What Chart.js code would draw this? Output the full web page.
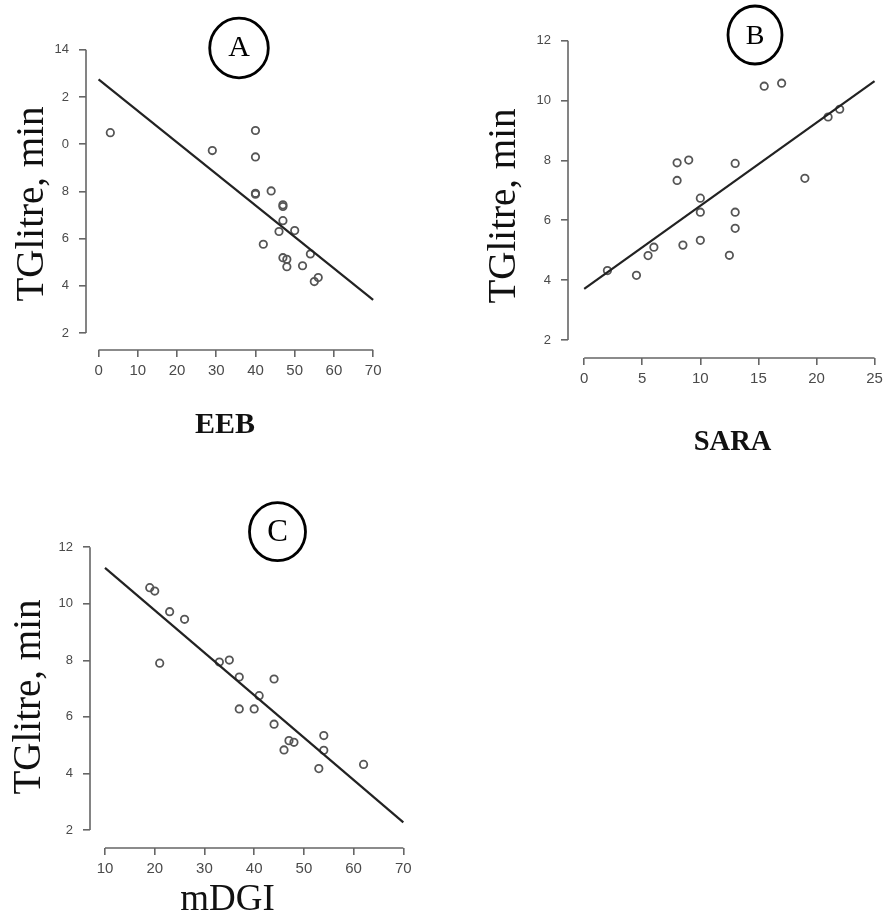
<!DOCTYPE html>
<html>
<head>
<meta charset="utf-8">
<script src="https://cdn.jsdelivr.net/npm/chart.js@4"></script>
<style>
  html, body { margin: 0; padding: 0; background: #fff; }
  body { width: 888px; height: 914px; position: relative; overflow: hidden; }
  canvas { position: absolute; }
</style>
</head>
<body>
<canvas id="cA" width="440" height="460" style="left:0px;top:0px"></canvas>
<canvas id="cB" width="448" height="460" style="left:440px;top:0px"></canvas>
<canvas id="cC" width="440" height="454" style="left:0px;top:460px"></canvas>
<script>
// ---------------- DATA ----------------
// Panel A: EEB vs TGlitre
const eeb = [3, 29, 40, 40, 40, 40, 44, 47, 47, 47, 46, 50, 42, 47, 48, 48, 52, 54, 55, 56];
const tgA = [10.49, 9.73, 10.58, 9.46, 7.92, 7.88, 8.02, 7.43, 7.36, 6.76, 6.30, 6.34, 5.76, 5.19, 5.12, 4.81, 4.85, 5.35, 4.18, 4.35];
const fitAx = [0, 70];
const fitAy = [12.75, 3.4];
const ticksAx = [0, 10, 20, 30, 40, 50, 60, 70];
const ticksAy = [2, 4, 6, 8, 10, 12, 14];

// Panel B: SARA vs TGlitre
const sara = [2, 4.5, 5.5, 6, 8.5, 8, 9, 8, 10, 10, 10, 13, 13, 13, 12.5, 15.5, 17, 19, 21, 22];
const tgB = [4.32, 4.16, 4.82, 5.10, 5.17, 7.92, 8.01, 7.33, 6.74, 6.27, 5.33, 7.90, 6.27, 5.73, 4.83, 10.48, 10.58, 7.40, 9.45, 9.71];
const fitBx = [0, 25];
const fitBy = [3.71, 10.65];
const ticksBx = [0, 5, 10, 15, 20, 25];
const ticksBy = [2, 4, 6, 8, 10, 12];

// Panel C: mDGI vs TGlitre
const mdgi = [19, 20, 23, 26, 21, 33, 35, 37, 44, 41, 37, 40, 44, 47, 48, 46, 54, 54, 53, 62];
const tgC = [10.57, 10.45, 9.72, 9.45, 7.90, 7.94, 8.01, 7.41, 7.34, 6.75, 6.28, 6.28, 5.74, 5.16, 5.10, 4.83, 5.34, 4.82, 4.17, 4.32];
const fitCx = [10, 70];
const fitCy = [11.27, 2.27];
const ticksCx = [10, 20, 30, 40, 50, 60, 70];
const ticksCy = [2, 4, 6, 8, 10, 12];

const yTitle = 'TGlitre, min';

// ---------------- RENDER ----------------
const AXIS_COLOR = '#666';
const TICK_TEXT = '#4a4a4a';

const rAxisPlugin = {
  id: 'rAxis',
  afterDraw(chart, args, opts) {
    const ctx = chart.ctx;
    const a = chart.chartArea;
    const xs = chart.scales.x, ys = chart.scales.y;
    const xt = opts.xTicks, yt = opts.yTicks;
    ctx.save();
    ctx.strokeStyle = AXIS_COLOR;
    ctx.lineWidth = 1.6;
    ctx.beginPath();
    ctx.moveTo(xs.getPixelForValue(xt[0]), a.bottom);
    ctx.lineTo(xs.getPixelForValue(xt[xt.length - 1]), a.bottom);
    ctx.moveTo(a.left, ys.getPixelForValue(yt[0]));
    ctx.lineTo(a.left, ys.getPixelForValue(yt[yt.length - 1]));
    ctx.stroke();

    // white patch (as in the reference, the y title covers part of tick labels)
    if (opts.cover) {
      const c = opts.cover;
      ctx.fillStyle = '#fff';
      ctx.fillRect(c[0], c[1], c[2], c[3]);
    }

    // y axis title
    const yt2 = opts.yTitle;
    ctx.fillStyle = '#111';
    ctx.font = yt2.font;
    ctx.textAlign = 'center';
    ctx.textBaseline = 'alphabetic';
    ctx.save();
    ctx.translate(yt2.x, yt2.y);
    ctx.rotate(-Math.PI / 2);
    ctx.fillText(yt2.text, 0, 0);
    ctx.restore();

    // x axis title
    const xt2 = opts.xTitle;
    ctx.font = xt2.font;
    ctx.fillText(xt2.text, xt2.x, xt2.y);

    // circled panel letter
    const p = opts.panel;
    ctx.lineWidth = 2.8;
    ctx.strokeStyle = '#000';
    ctx.beginPath();
    ctx.ellipse(p.x, p.y, p.rx, p.ry, 0, 0, Math.PI * 2);
    ctx.stroke();
    ctx.fillStyle = '#000';
    ctx.font = p.font;
    ctx.fillText(p.text, p.x, p.baseline);
    ctx.restore();
  }
};

function makePanel(cfg) {
  const canvas = document.getElementById(cfg.id);
  const W = canvas.width, H = canvas.height;
  const a = cfg.area; // local coords
  const pts = cfg.xs.map((v, i) => ({ x: v, y: cfg.ys[i] }));
  const fit = cfg.fx.map((v, i) => ({ x: v, y: cfg.fy[i] }));
  const scaleCommon = {
    type: 'linear',
    grid: { display: true, drawOnChartArea: false, drawTicks: true, tickLength: 7, color: AXIS_COLOR, lineWidth: 1.6 },
    border: { display: false },
  };
  new Chart(canvas, {
    type: 'scatter',
    data: {
      datasets: [
        {
          data: pts,
          pointRadius: 3.7,
          pointBorderWidth: 1.8,
          pointBorderColor: '#555',
          pointBackgroundColor: 'rgba(0,0,0,0)',
          showLine: false,
          order: 2
        },
        {
          data: fit,
          showLine: true,
          borderColor: '#222',
          borderWidth: 2.2,
          pointRadius: 0,
          fill: false,
          order: 1
        }
      ]
    },
    options: {
      responsive: false,
      animation: false,
      devicePixelRatio: 1,
      layout: { padding: { left: 0, bottom: 0, top: a.top, right: W - a.right } },
      plugins: {
        legend: { display: false },
        tooltip: { enabled: false },
        rAxis: cfg.deco
      },
      scales: {
        x: Object.assign({}, scaleCommon, {
          position: 'bottom',
          min: cfg.xmin, max: cfg.xmax,
          afterBuildTicks: s => { s.ticks = cfg.xTicks.map(v => ({ value: v })); },
          afterFit: s => { s.height = H - a.bottom; },
          ticks: {
            autoSkip: false, maxRotation: 0, padding: 5,
            color: TICK_TEXT,
            font: { family: 'Liberation Sans', size: 15 },
            callback: v => String(v)
          }
        }),
        y: Object.assign({}, scaleCommon, {
          position: 'left',
          min: cfg.ymin, max: cfg.ymax,
          afterBuildTicks: s => { s.ticks = cfg.yTicks.map(v => ({ value: v })); },
          afterFit: s => { s.width = a.left; },
          ticks: {
            autoSkip: false, padding: 10,
            color: TICK_TEXT,
            font: { family: 'Liberation Sans', size: 13 },
            callback: v => String(v)
          }
        })
      }
    },
    plugins: [rAxisPlugin]
  });
}

// Panel A (canvas at 0,0)
makePanel({
  id: 'cA',
  area: { left: 86, right: 381, top: 38, bottom: 350 },
  xmin: -3.2, xmax: 72, ymin: 1.28, ymax: 14.5,
  xs: eeb, ys: tgA, fx: fitAx, fy: fitAy,
  xTicks: ticksAx, yTicks: ticksAy,
  deco: {
    xTicks: ticksAx, yTicks: ticksAy,
    cover: [0, 86, 61.5, 240],
    yTitle: { text: yTitle, x: 43, y: 204, font: '39px "Liberation Serif"' },
    xTitle: { text: 'EEB', x: 225, y: 433, font: 'bold 30px "Liberation Serif"' },
    panel: { text: 'A', x: 239, y: 48, rx: 29.3, ry: 29.8, baseline: 56, font: '30px "Liberation Serif"' }
  }
});

// Panel B (canvas at 440,0)
makePanel({
  id: 'cB',
  area: { left: 128, right: 442, top: 32, bottom: 358 },
  xmin: -1.394, xmax: 25.47, ymin: 1.399, ymax: 12.29,
  xs: sara, ys: tgB, fx: fitBx, fy: fitBy,
  xTicks: ticksBx, yTicks: ticksBy,
  deco: {
    xTicks: ticksBx, yTicks: ticksBy,
    cover: null,
    yTitle: { text: yTitle, x: 75, y: 206, font: '39px "Liberation Serif"' },
    xTitle: { text: 'SARA', x: 292.5, y: 450, font: 'bold 28.5px "Liberation Serif"' },
    panel: { text: 'B', x: 315, y: 35, rx: 27, ry: 29, baseline: 43.5, font: '28px "Liberation Serif"' }
  }
});

// Panel C (canvas at 0,460)
makePanel({
  id: 'cC',
  area: { left: 90, right: 411, top: 79, bottom: 388 },
  xmin: 6.983, xmax: 71.54, ymin: 1.363, ymax: 12.29,
  xs: mdgi, ys: tgC, fx: fitCx, fy: fitCy,
  xTicks: ticksCx, yTicks: ticksCy,
  deco: {
    xTicks: ticksCx, yTicks: ticksCy,
    cover: null,
    yTitle: { text: yTitle, x: 39.5, y: 237, font: '39px "Liberation Serif"' },
    xTitle: { text: 'mDGI', x: 227.5, y: 450, font: '37px "Liberation Serif"' },
    panel: { text: 'C', x: 277.5, y: 71.7, rx: 28, ry: 29, baseline: 80.5, font: '31px "Liberation Serif"' }
  }
});
</script>
</body>
</html>
